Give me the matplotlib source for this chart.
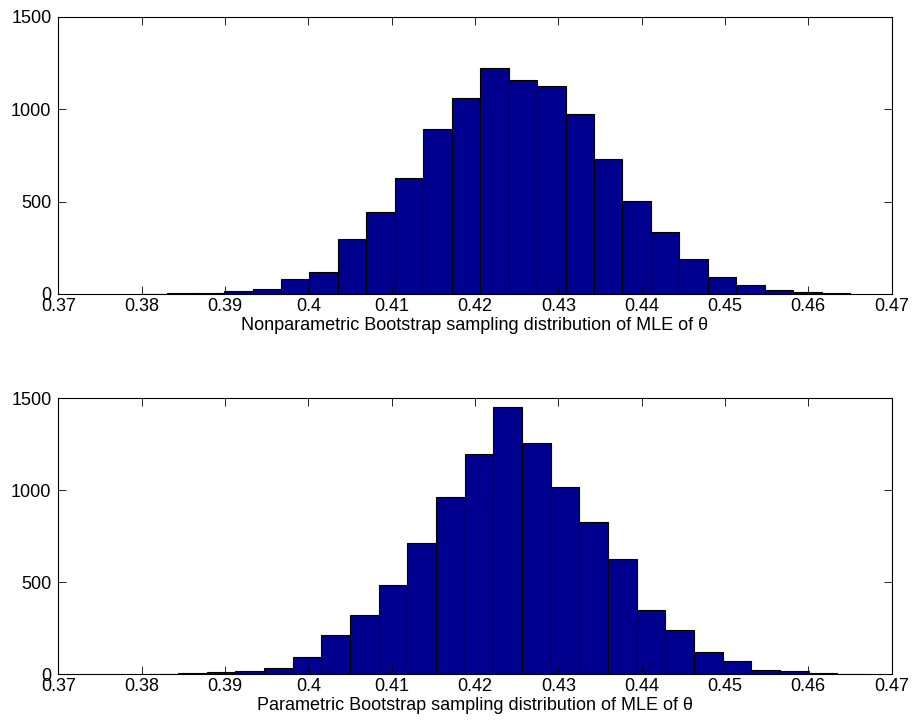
import numpy as np
import matplotlib
matplotlib.use('Agg')
import matplotlib.pyplot as plt

plt.rcParams['font.family'] = ['Liberation Sans', 'DejaVu Sans']

# bin ranges (min, max of the bootstrap samples) and counts, 25 bins each
nonpar_range = (0.37965, 0.46502)
nonpar_counts = [1, 3, 6, 16, 27, 81, 121, 298, 442, 629, 891, 1062, 1221,
                 1158, 1127, 974, 729, 505, 334, 191, 90, 49, 22, 9, 4]

par_range = (0.38092, 0.46694)
par_counts = [2, 4, 9, 18, 31, 94, 210, 321, 482, 713, 965, 1195, 1453,
              1257, 1017, 829, 626, 350, 241, 118, 71, 20, 16, 4, 2]

xticks = [0.37, 0.38, 0.39, 0.4, 0.41, 0.42, 0.43, 0.44, 0.45, 0.46, 0.47]
xticklabels = ['0.37', '0.38', '0.39', '0.4', '0.41', '0.42', '0.43',
               '0.44', '0.45', '0.46', '0.47']
yticks = [0, 500, 1000, 1500]
labels = ['Nonparametric Bootstrap sampling distribution of MLE of \u03b8',
          'Parametric Bootstrap sampling distribution of MLE of \u03b8']

fig = plt.figure(figsize=(9.13, 7.27), dpi=100)
ax1 = fig.add_axes([0.0639, 0.5956, 0.9126, 0.3814])
ax2 = fig.add_axes([0.0639, 0.0729, 0.9126, 0.3792])

for ax, rng, counts, lab in [(ax1, nonpar_range, nonpar_counts, labels[0]),
                             (ax2, par_range, par_counts, labels[1])]:
    edges = np.linspace(rng[0], rng[1], len(counts) + 1)
    ax.bar(edges[:-1], counts, width=np.diff(edges), align='edge',
           color='#00008F', edgecolor='black', linewidth=0.8)
    ax.set_xlim(0.37, 0.47)
    ax.set_ylim(0, 1500)
    ax.set_xticks(xticks)
    ax.set_xticklabels(xticklabels)
    ax.set_yticks(yticks)
    ax.tick_params(direction='in', length=6, width=0.6, top=True, right=True,
                   labelsize=13)
    ax.tick_params(axis='x', pad=3)
    ax.tick_params(axis='y', pad=5)
    for s in ax.spines.values():
        s.set_linewidth(0.8)
    ax.set_xlabel(lab, fontsize=13, labelpad=1.5)

fig.savefig('out.png', dpi=100)
